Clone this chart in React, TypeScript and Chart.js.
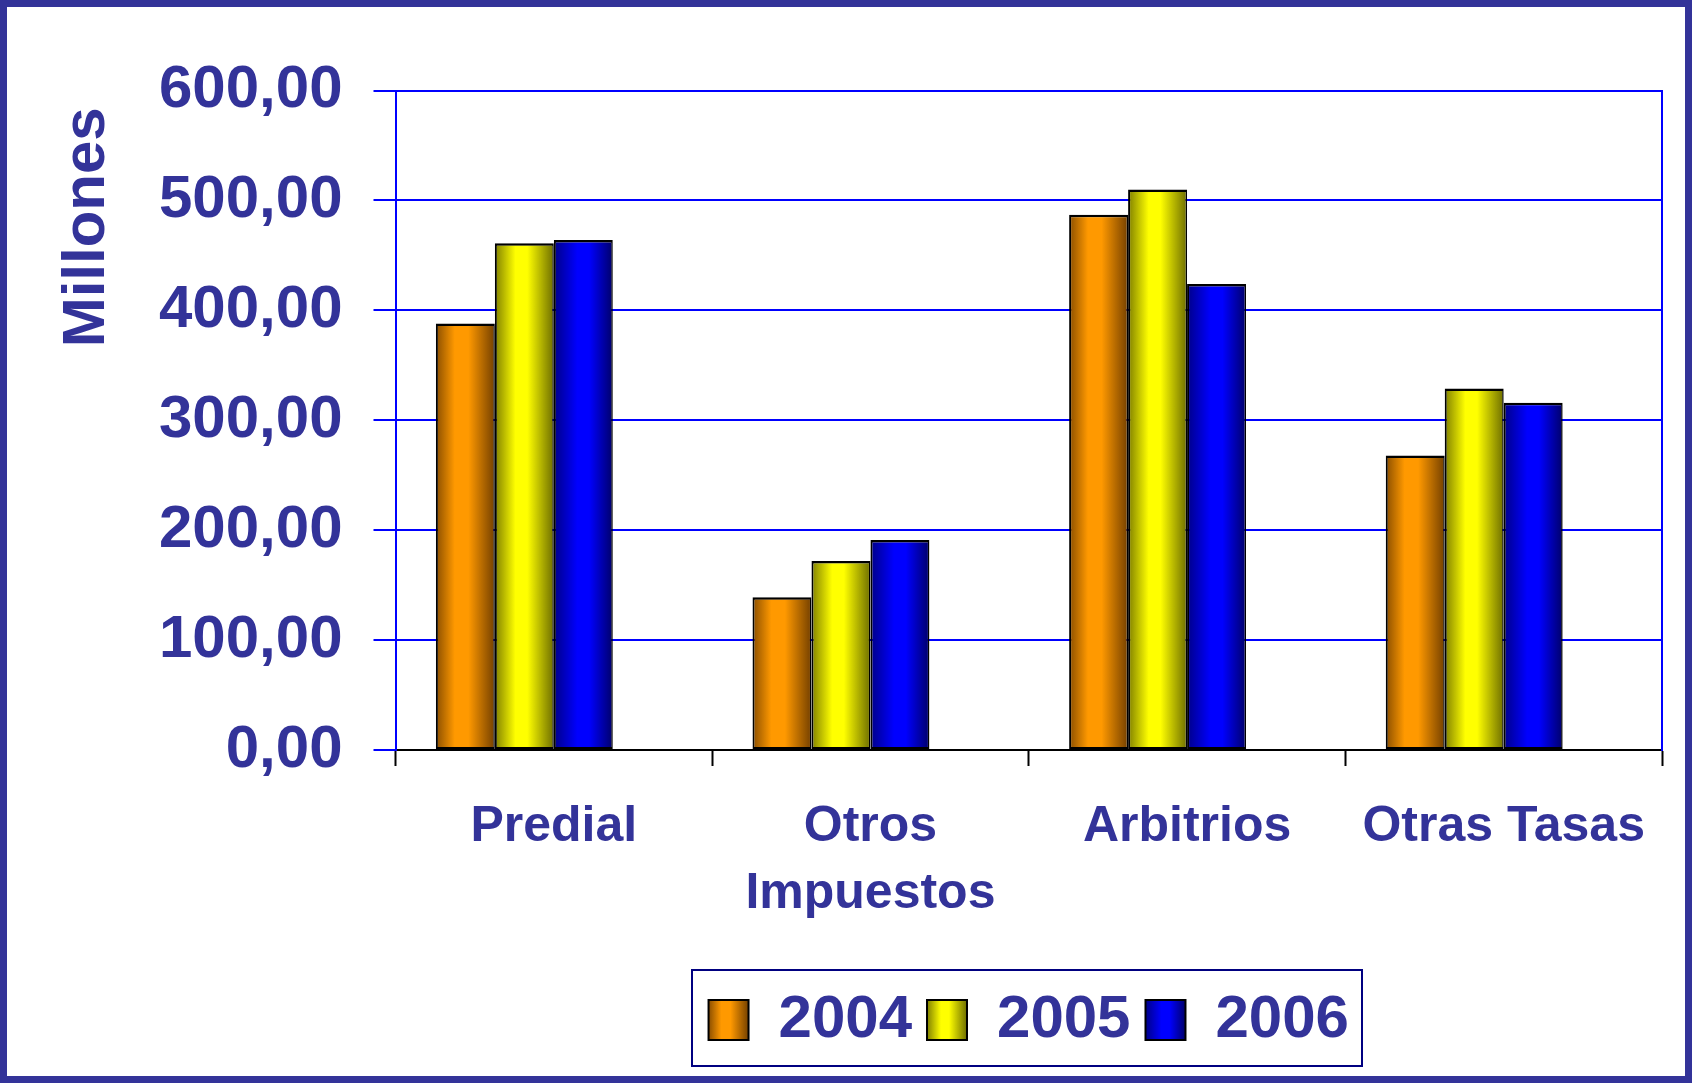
import React, { useEffect, useRef } from 'react';
import { Chart, registerables } from 'chart.js';

Chart.register(...registerables);

// ---- data ----
const CATEGORIES: (string | string[])[] = ['Predial', ['Otros', 'Impuestos'], 'Arbitrios', 'Otras Tasas'];
const SERIES_NAMES = ['2004', '2005', '2006'];
const VALUES_2004 = [388, 139, 487, 268];
const VALUES_2005 = [461, 172, 510, 329];
const VALUES_2006 = [464, 191, 424, 316];
const Y_TICKS = [0, 100, 200, 300, 400, 500, 600];
const Y_TITLE = 'Millones';

// ---- styles ----
const FONT = "'Liberation Sans', Arial, Helvetica, sans-serif";
const TEXT = '#333399';
const GRID_BLUE = '#0000FF';
const CAT_PCT = 0.745;
const SLOTS = 4;
const BOX_W = 40;

const STOPS: [number, string][][] = [
  [[0, '#8a4e00'], [0.32, '#ff9900'], [0.55, '#ff9900'], [1, '#744000']],
  [[0, '#808000'], [0.35, '#ffff00'], [0.55, '#ffff00'], [1, '#6e6e00']],
  [[0, '#000088'], [0.4, '#0000ff'], [0.6, '#0000ff'], [1, '#00006a']],
];
const SOLID = ['#ff9900', '#ffff00', '#0000ff'];

function grad(ctx: CanvasRenderingContext2D, x0: number, x1: number, stops: [number, string][]) {
  const g = ctx.createLinearGradient(x0, 0, x1, 0);
  stops.forEach(([o, c]) => g.addColorStop(o, c));
  return g;
}

function barFill(i: number) {
  return (c: any) => {
    const chart = c.chart;
    const xs = chart.scales && chart.scales.x;
    if (!xs || !chart.chartArea || typeof c.dataIndex !== 'number') return SOLID[i];
    const center = xs.getPixelForValue(c.dataIndex);
    const catW = xs.width / CATEGORIES.length;
    const barW = (catW * CAT_PCT) / SLOTS;
    const left = center - (SLOTS / 2) * barW + i * barW;
    return grad(chart.ctx, left, left + barW, STOPS[i]);
  };
}

const legendFrame = {
  id: 'legendFrame',
  afterUpdate(chart: any) {
    const lg = chart.legend;
    if (!lg || !lg.legendItems) return;
    lg.legendItems.forEach((item: any, i: number) => {
      const hb = lg.legendHitBoxes[i];
      if (!hb) return;
      item.fillStyle = grad(chart.ctx, hb.left, hb.left + BOX_W, STOPS[item.datasetIndex]);
      item.lineWidth = 2;
    });
  },
  afterDraw(chart: any) {
    const lg = chart.legend;
    if (!lg || !lg.legendHitBoxes || !lg.legendHitBoxes.length) return;
    const hbs = lg.legendHitBoxes;
    const first = hbs[0];
    const last = hbs[hbs.length - 1];
    const l = first.left - 17;
    const r = last.left + last.width + 13;
    const cy = first.top + first.height / 2;
    const ctx = chart.ctx;
    ctx.save();
    ctx.strokeStyle = '#000080';
    ctx.lineWidth = 2;
    ctx.strokeRect(Math.round(l), Math.round(cy - 50.5), Math.round(r - l), 96);
    ctx.restore();
  },
};

export default function App() {
  const ref = useRef<HTMLCanvasElement>(null);

  useEffect(() => {
    const canvas = ref.current;
    if (!canvas) return;
    const series = [VALUES_2004, VALUES_2005, VALUES_2006];
    const datasets: any[] = series.map((vals, i) => ({
      label: SERIES_NAMES[i],
      data: vals,
      backgroundColor: barFill(i),
      borderColor: '#000000',
      borderWidth: { top: 2.5, left: 2, right: 1.5, bottom: 2 },
      borderSkipped: false,
      categoryPercentage: CAT_PCT,
      barPercentage: 1,
    }));
    // empty spacer slot (Excel leaves a gap slot after the three bars)
    datasets.push({
      label: '',
      data: CATEGORIES.map(() => null),
      backgroundColor: 'rgba(0,0,0,0)',
      borderWidth: 0,
      categoryPercentage: CAT_PCT,
      barPercentage: 1,
    });

    const chart = new Chart(canvas, {
      type: 'bar',
      data: { labels: CATEGORIES as any, datasets },
      options: {
        responsive: false,
        animation: false,
        devicePixelRatio: 1,
        events: [],
        layout: { padding: { top: 83.6, right: 23, bottom: 16, left: 0 } },
        plugins: {
          tooltip: { enabled: false },
          title: { display: false },
          legend: {
            display: true,
            position: 'bottom',
            align: 'center',
            fullSize: false,
            labels: {
              color: TEXT,
              font: { family: FONT, size: 60, weight: 'bold' },
              boxWidth: BOX_W,
              boxHeight: 40,
              padding: 15,
              filter: (item: any) => item.datasetIndex < 3,
            },
          },
        },
        scales: {
          x: {
            type: 'category',
            grid: {
              display: true,
              drawOnChartArea: false,
              drawTicks: true,
              tickLength: 16,
              tickColor: '#000000',
              tickWidth: 2,
              offset: true,
            },
            border: { display: true, color: '#000000', width: 2 },
            ticks: {
              color: TEXT,
              font: { family: FONT, size: 50, weight: 'bold', lineHeight: 1.33 },
              padding: 28,
              maxRotation: 0,
              minRotation: 0,
              autoSkip: false,
            },
            afterFit: (s: any) => {
              s.height = 225;
              s.paddingLeft = 0;
              s.paddingRight = 0;
            },
          },
          y: {
            min: Y_TICKS[0],
            max: Y_TICKS[Y_TICKS.length - 1],
            afterBuildTicks: (s: any) => {
              s.ticks = Y_TICKS.map((v) => ({ value: v }));
            },
            grid: {
              color: (c: any) => (c.tick && c.tick.value === 0 ? 'rgba(0,0,0,0)' : GRID_BLUE),
              lineWidth: 2,
              drawTicks: true,
              tickLength: 22,
              tickColor: GRID_BLUE,
              tickWidth: 2,
            },
            border: { display: true, color: GRID_BLUE, width: 2 },
            ticks: {
              color: TEXT,
              font: { family: FONT, size: 60, weight: 'bold' },
              padding: 31,
              callback: (v: any) => Number(v).toFixed(2).replace('.', ','),
            },
            title: {
              display: true,
              text: Y_TITLE + ' ',
              align: 'end',
              color: TEXT,
              font: { family: FONT, size: 60, weight: 'bold' },
              padding: { top: 44, bottom: 0 },
            },
            afterFit: (s: any) => {
              s.width = 388.5;
              s.paddingTop = 0;
              s.paddingBottom = 0;
            },
          },
          y2: {
            position: 'right',
            min: Y_TICKS[0],
            max: Y_TICKS[Y_TICKS.length - 1],
            grid: { drawOnChartArea: false, drawTicks: false },
            ticks: { display: false },
            border: { display: true, color: GRID_BLUE, width: 2 },
            afterFit: (s: any) => {
              s.width = 0;
              s.paddingTop = 0;
              s.paddingBottom = 0;
            },
          },
        },
      } as any,
      plugins: [legendFrame as any],
    });
    return () => chart.destroy();
  }, []);

  return (
    <div
      style={{
        position: 'absolute',
        left: 0,
        top: 0,
        width: 1692,
        height: 1083,
        boxSizing: 'border-box',
        border: '7px solid #333399',
        background: '#ffffff',
      }}
    >
      <canvas ref={ref} width={1678} height={1069} style={{ display: 'block', width: 1678, height: 1069 }} />
    </div>
  );
}
